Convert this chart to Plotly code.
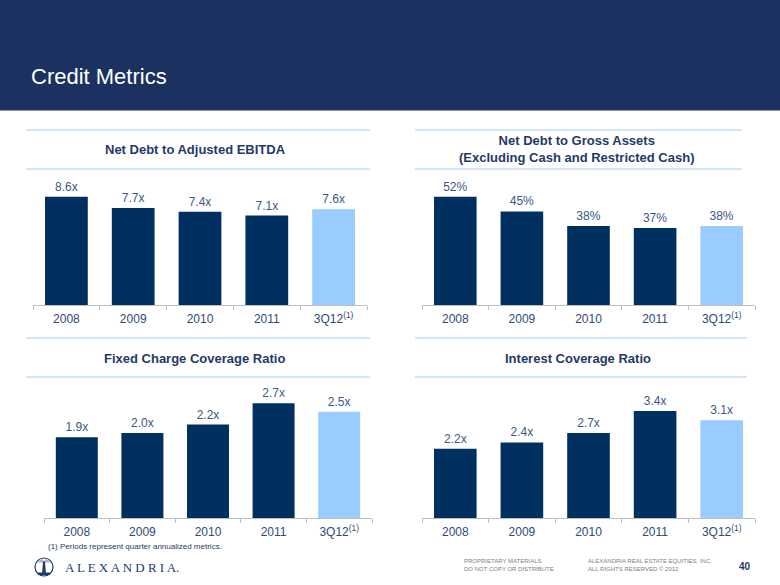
import plotly.graph_objects as go

W, H = 780, 585

categories = ["2008", "2009", "2010", "2011", "3Q12"]
tick_labels = ["2008", "2009", "2010", "2011", "3Q12<sup>(1)</sup>"]
net_debt_ebitda = [8.6, 7.7, 7.4, 7.1, 7.6]
net_debt_gross_assets = [52, 45, 38, 37, 38]
fixed_charge_coverage = [1.9, 2.0, 2.2, 2.7, 2.5]
interest_coverage = [2.2, 2.4, 2.7, 3.4, 3.1]

titles = [
    "Net Debt to Adjusted EBITDA",
    "Net Debt to Gross Assets<br>(Excluding Cash and Restricted Cash)",
    "Fixed Charge Coverage Ratio",
    "Interest Coverage Ratio",
]
suffixes = ["x", "%", "x", "x"]
series = [net_debt_ebitda, net_debt_gross_assets, fixed_charge_coverage, interest_coverage]

DARK = "#00305F"
LIGHT = "#99CCFF"
NAVY_TXT = "#1F3A68"
VAL_TXT = "#3A5887"
HEADER = "#1B3160"
SEP = "#D3E5F8"

def px(x):
    return x / W

def py(y):
    return 1 - y / H

# panel geometry (pixels): x0, x1, baseline, top, px per unit
panels = [
    dict(x0=33, x1=367, base=305, top=180, scale=12.6, title_y=149, title_x=195),
    dict(x0=422, x1=755, base=305, top=180, scale=2.08, title_y=149, title_x=577),
    dict(x0=44, x1=372, base=518, top=390, scale=42.5, title_y=358, title_x=194),
    dict(x0=422, x1=755, base=518, top=390, scale=31.5, title_y=358, title_x=578),
]

fig = go.Figure()
layout_axes = {}
for i, (p, vals, suf) in enumerate(zip(panels, series, suffixes)):
    n = "" if i == 0 else str(i + 1)
    colors = [DARK] * (len(vals) - 1) + [LIGHT]
    fmt = "{:.1f}x" if suf == "x" else "{:d}%"
    texts = [fmt.format(v) for v in vals]
    fig.add_trace(go.Bar(
        x=categories, y=vals, xaxis="x" + n, yaxis="y" + n,
        marker=dict(color=colors, line=dict(width=0)),
        width=0.64,
        text=texts, textposition="outside", constraintext="none",
        textfont=dict(family="Liberation Sans, Arial", size=12, color=VAL_TXT),
        cliponaxis=False, showlegend=False, hoverinfo="skip",
    ))
    layout_axes["xaxis" + n] = dict(
        domain=[px(p["x0"]), px(p["x1"])], anchor="y" + n,
        type="category", tickmode="array", tickvals=categories, ticktext=tick_labels,
        showline=True, linecolor="#BFBFBF", linewidth=1,
        ticks="outside", tickson="boundaries", ticklen=4, tickcolor="#BFBFBF",
        ticklabelstandoff=3,
        tickfont=dict(family="Liberation Sans, Arial", size=12, color="#2F4A78"),
        showgrid=False, zeroline=False, fixedrange=True,
    )
    layout_axes["yaxis" + n] = dict(
        domain=[py(p["base"]), py(p["top"])], anchor="x" + n,
        range=[0, (p["base"] - p["top"]) / p["scale"]],
        visible=False, showgrid=False, zeroline=False, fixedrange=True,
    )

shapes = [
    # header band
    dict(type="rect", xref="paper", yref="paper", x0=0, x1=1, y0=py(110), y1=1,
         fillcolor=HEADER, line=dict(width=0), layer="below"),
    dict(type="line", xref="paper", yref="paper", x0=0, x1=1, y0=py(110.5), y1=py(110.5),
         line=dict(color="#8A96AE", width=1)),
]
sep_lines = [
    (26, 370, 130), (26, 370, 169), (26, 370, 338), (26, 370, 377),
    (415, 742, 130), (415, 742, 169), (415, 747, 338), (415, 747, 377),
]
for x0, x1, y in sep_lines:
    shapes.append(dict(type="line", xref="paper", yref="paper",
                       x0=px(x0), x1=px(x1), y0=py(y), y1=py(y),
                       line=dict(color=SEP, width=2)))

# logo
shapes.append(dict(type="circle", xref="paper", yref="paper",
                   x0=px(35), x1=px(53), y0=py(576), y1=py(558),
                   line=dict(color=NAVY_TXT, width=1.2), fillcolor="white"))
for (xa, ya) in [(36.5, 562), (38, 559.5), (41, 558.3), (47, 558.3), (50, 559.5), (51.5, 562)]:
    shapes.append(dict(type="line", xref="paper", yref="paper",
                       x0=px(44), y0=py(562), x1=px(xa), y1=py(ya),
                       line=dict(color="#6F86AC", width=0.8)))
shapes.append(dict(type="path", xref="paper", yref="paper",
                   path=f"M {px(42)} {py(574)} L {px(43)} {py(562)} L {px(45)} {py(562)} L {px(46)} {py(574)} Z",
                   fillcolor=NAVY_TXT, line=dict(width=0)))
shapes.append(dict(type="rect", xref="paper", yref="paper",
                   x0=px(38), x1=px(50), y0=py(575), y1=py(572.5),
                   fillcolor=NAVY_TXT, line=dict(width=0)))

annotations = [
    dict(text="Credit Metrics", x=px(29), y=py(77), xref="paper", yref="paper",
         xanchor="left", yanchor="middle", showarrow=False,
         font=dict(family="Liberation Sans, Arial", size=22, color="white")),
    dict(text="(1) Periods represent quarter annualized metrics.", x=px(46), y=py(546),
         xref="paper", yref="paper", xanchor="left", yanchor="middle", showarrow=False,
         font=dict(family="Liberation Sans, Arial", size=8, color="#1F3A68")),
    dict(text="A L E X A N D R I A.", x=px(63), y=py(567), xref="paper", yref="paper",
         xanchor="left", yanchor="middle", showarrow=False,
         font=dict(family="Liberation Serif, DejaVu Serif, serif", size=13, color=NAVY_TXT)),
    dict(text="PROPRIETARY MATERIALS<br>DO NOT COPY OR DISTRIBUTE", x=px(462), y=py(565),
         xref="paper", yref="paper", xanchor="left", yanchor="middle", showarrow=False,
         align="left", font=dict(family="Liberation Sans, Arial", size=6, color="#808080")),
    dict(text="ALEXANDRIA REAL ESTATE EQUITIES, INC.<br>ALL RIGHTS RESERVED © 2012", x=px(586), y=py(565),
         xref="paper", yref="paper", xanchor="left", yanchor="middle", showarrow=False,
         align="left", font=dict(family="Liberation Sans, Arial", size=6, color="#808080")),
    dict(text="<b>40</b>", x=px(745), y=py(566), xref="paper", yref="paper",
         xanchor="center", yanchor="middle", showarrow=False,
         font=dict(family="Liberation Sans, Arial", size=10, color=NAVY_TXT)),
]
for p, t in zip(panels, titles):
    annotations.append(dict(
        text="<b>" + t + "</b>", x=px(p["title_x"]), y=py(p["title_y"]),
        xref="paper", yref="paper", xanchor="center", yanchor="middle",
        showarrow=False, align="center",
        font=dict(family="Liberation Sans, Arial", size=13, color=NAVY_TXT)))

fig.update_layout(
    width=W, height=H, margin=dict(l=0, r=0, t=0, b=0),
    paper_bgcolor="white", plot_bgcolor="white",
    shapes=shapes, annotations=annotations, bargap=0.36,
    **layout_axes,
)

fig.write_html(
    "out.html",
    config={"displayModeBar": False, "staticPlot": True},
    post_script="document.body.style.margin='0';document.body.style.overflow='hidden';",
)
